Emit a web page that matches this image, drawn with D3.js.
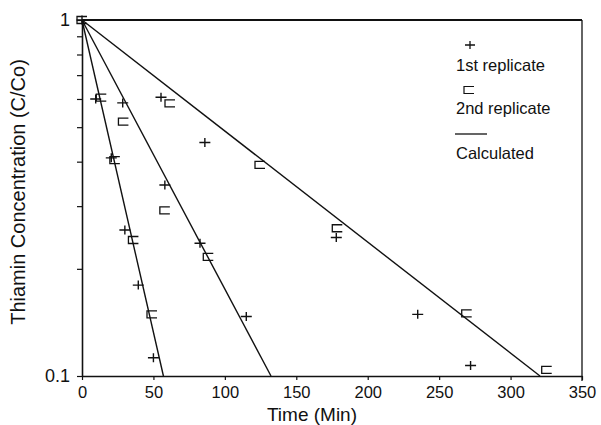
<!DOCTYPE html>
<html>
<head>
<meta charset="utf-8">
<script src="https://cdn.jsdelivr.net/npm/d3@7"></script>
<style>
  body { margin: 0; background: #fff; }
  text { font-family: "Liberation Sans", Arial, sans-serif; fill: #111; }
</style>
</head>
<body>
<svg id="chart" width="601" height="425"></svg>
<script>
// 1st replicate (+)
const rep1Time = [0, 9.6, 20.5, 28.5, 30, 39.4, 50, 55.3, 58, 82.6, 86, 115, 178, 235, 272]
const rep1Conc = [1, 0.60, 0.41, 0.585, 0.257, 0.18, 0.1125, 0.607, 0.344, 0.236, 0.453, 0.147, 0.245, 0.149, 0.107]
// 2nd replicate (open box)
const rep2Time = [0, 13.5, 23, 29, 36, 49, 58, 61.6, 88.4, 124.6, 178.7, 269.3, 325.3]
const rep2Conc = [1, 0.605, 0.404, 0.518, 0.241, 0.149, 0.292, 0.583, 0.216, 0.392, 0.260, 0.150, 0.104]
// calculated lines: start at (0, 1), reach 0.1 at these times
const calcEndTime = [57, 132.3, 320.6]
const calcStart = 1
const calcEnd = 0.1

const xTicks = [0, 50, 100, 150, 200, 250, 300, 350]
const yTicks = [0.1, 0.2, 0.3, 0.4, 0.5, 0.6, 0.7, 0.8, 0.9, 1]
const yLabels = [0.1, 1]

const svg = d3.select('#chart')
const LEFT = 82, RIGHT = 582, TOP = 20, BOTTOM = 376

const x = d3.scaleLinear().domain([0, 350]).range([LEFT, RIGHT])
const y = d3.scaleLog().domain([0.1, 1]).range([BOTTOM, TOP])

// frame: top and right
svg.append('line')
  .attr('x1', x(0)).attr('x2', x(350))
  .attr('y1', y(1)).attr('y2', y(1))
  .attr('stroke', '#111').attr('stroke-width', 2)
svg.append('line')
  .attr('x1', x(350)).attr('x2', x(350))
  .attr('y1', y(1)).attr('y2', y(0.1) + 5)
  .attr('stroke', '#111').attr('stroke-width', 1.3)

// axes
const xAxis = svg.append('g')
  .attr('transform', `translate(0,${BOTTOM})`)
  .call(d3.axisBottom(x).tickValues(xTicks).tickSize(4).tickSizeOuter(0).tickPadding(6))
xAxis.select('.domain').attr('stroke', '#111').attr('stroke-width', 1.6)
xAxis.selectAll('.tick line').attr('stroke', '#111').attr('stroke-width', 1.2)
xAxis.selectAll('.tick text')
  .attr('font-size', 16.5).attr('font-family', '"Liberation Sans", Arial, sans-serif')
  .attr('fill', '#111')

const yAxis = svg.append('g')
  .attr('transform', `translate(${LEFT},0)`)
  .call(d3.axisLeft(y).tickValues(yTicks).tickSize(5).tickSizeOuter(0).tickPadding(7)
    .tickFormat(d => yLabels.includes(d) ? d3.format('')(d) : ''))
yAxis.select('.domain').attr('stroke', '#111').attr('stroke-width', 1.6)
yAxis.selectAll('.tick line').attr('stroke', '#111').attr('stroke-width', 1.2)
yAxis.selectAll('.tick text')
  .attr('font-size', 18).attr('font-family', '"Liberation Sans", Arial, sans-serif')
  .attr('fill', '#111')

// axis titles
svg.append('text')
  .attr('x', 312).attr('y', 421)
  .attr('text-anchor', 'middle').attr('font-size', 19)
  .text('Time (Min)')
svg.append('text')
  .attr('transform', 'translate(25,192) rotate(-90)')
  .attr('text-anchor', 'middle').attr('font-size', 20)
  .text('Thiamin Concentration (C/Co)')

// calculated lines
const plot = svg.append('g')
plot.selectAll('line.calc')
  .data(calcEndTime)
  .enter()
  .append('line')
  .attr('class', 'calc')
  .attr('x1', x(0)).attr('y1', y(calcStart))
  .attr('x2', d => x(d)).attr('y2', y(calcEnd))
  .attr('stroke', '#111').attr('stroke-width', 1.4)

// marker shapes
const plusPath = 'M-5.5,0H5.5M0,-4.5V4.5'
const boxPath = 'M5,-3.5H-5V3.5H5'

plot.selectAll('path.rep1')
  .data(d3.zip(rep1Time, rep1Conc))
  .enter()
  .append('path')
  .attr('class', 'rep1')
  .attr('d', plusPath)
  .attr('transform', d => `translate(${x(d[0])},${y(d[1])})`)
  .attr('fill', 'none').attr('stroke', '#111').attr('stroke-width', 1.4)

plot.selectAll('path.rep2')
  .data(d3.zip(rep2Time, rep2Conc))
  .enter()
  .append('path')
  .attr('class', 'rep2')
  .attr('d', boxPath)
  .attr('transform', d => `translate(${x(d[0])},${y(d[1])})`)
  .attr('fill', 'none').attr('stroke', '#111').attr('stroke-width', 1.3)

// legend
const legend = svg.append('g')
legend.append('path').attr('d', 'M-5,0H5M0,-4V4')
  .attr('transform', 'translate(470,45)')
  .attr('fill', 'none').attr('stroke', '#111').attr('stroke-width', 1.3)
legend.append('text').attr('x', 456).attr('y', 70.5).attr('font-size', 16.5).text('1st replicate')
legend.append('path').attr('d', 'M5,-3.5H-5V3.5H5')
  .attr('transform', 'translate(469,90)')
  .attr('fill', 'none').attr('stroke', '#111').attr('stroke-width', 1.2)
legend.append('text').attr('x', 456).attr('y', 114).attr('font-size', 16.5).text('2nd replicate')
legend.append('line')
  .attr('x1', 455).attr('x2', 487).attr('y1', 134).attr('y2', 134)
  .attr('stroke', '#111').attr('stroke-width', 1.3)
legend.append('text').attr('x', 456).attr('y', 159).attr('font-size', 16.5).text('Calculated')
</script>
</body>
</html>
